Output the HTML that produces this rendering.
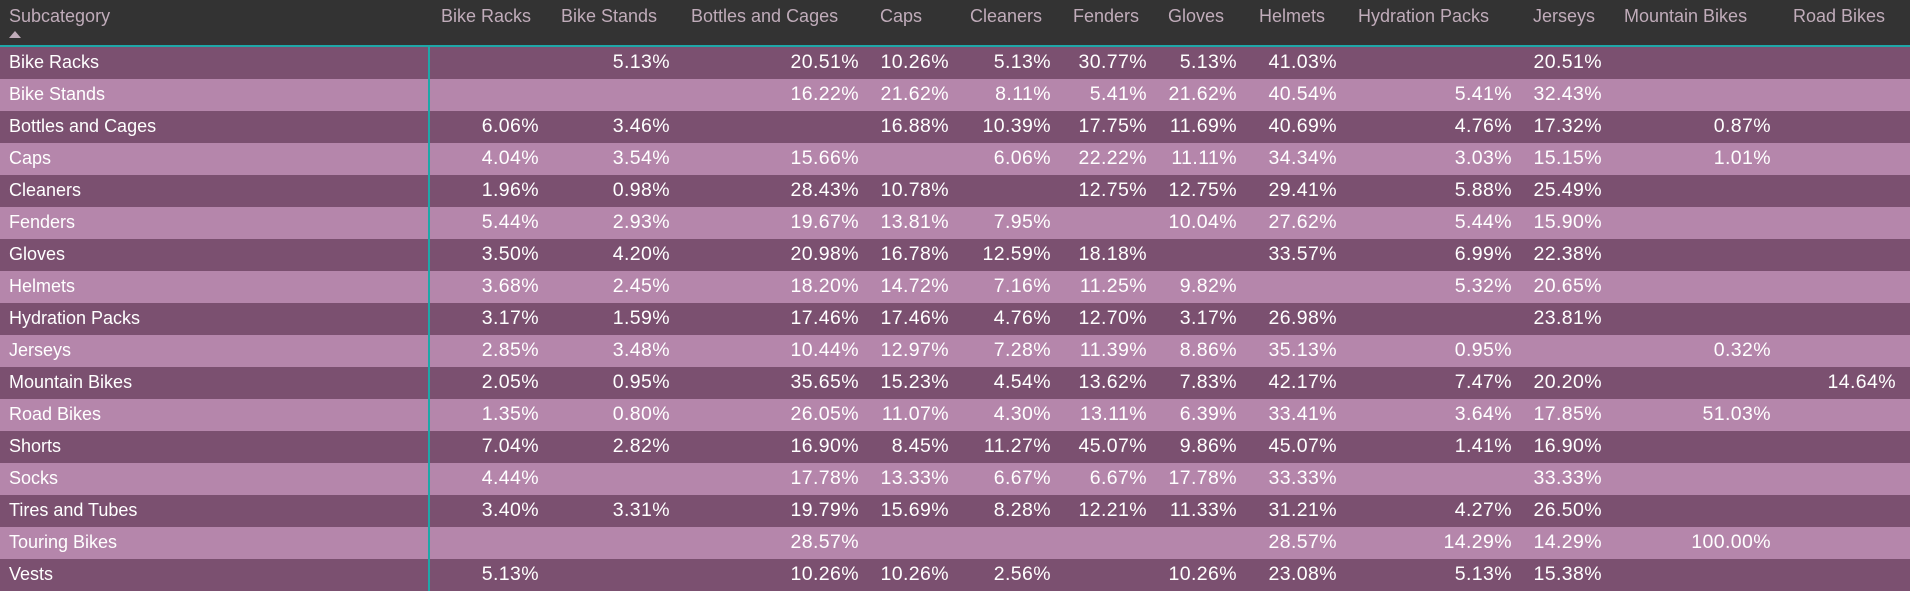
<!DOCTYPE html>
<html><head><meta charset="utf-8"><style>
body{margin:0;width:1910px;height:591px;overflow:hidden;background:#333;font-family:"Segoe UI","Liberation Sans",sans-serif;}
.hd{position:absolute;top:0;left:0;width:1910px;height:45px;background:#333;color:#c0acba;font-size:18px;}
.hd span{position:absolute;top:6px;white-space:nowrap;}
.tri{position:absolute;left:9px;top:31px;width:0;height:0;border-left:6px solid transparent;border-right:6px solid transparent;border-bottom:7px solid #c0acba;}
.hl{position:absolute;top:45px;left:0;width:1910px;height:2px;background:#1fa7a8;}
.vl{position:absolute;top:45px;left:428px;width:2px;height:546px;background:#1fa7a8;z-index:5;}
.rows{position:absolute;top:47px;left:0;width:1910px;}
.r{position:relative;height:32px;color:#fff;font-size:19.5px;line-height:31px;white-space:nowrap;letter-spacing:0.4px;}
.r:nth-child(odd){background:#7b5070;}
.r:nth-child(even){background:#b586ab;}
.r span{position:absolute;top:0;}
.r .n{left:9px;font-size:18px;letter-spacing:0;}
.a{right:1371px}.b{right:1240px}.c{right:1051px}.d{right:961px}.e{right:859px}.f{right:763px}.g{right:673px}.h{right:573px}.i{right:398px}.j{right:308px}.k{right:139px}.l{right:14px}
</style></head><body>
<div class="hd">
<span style="left:9px">Subcategory</span><div class="tri"></div>
<span style="left:441px">Bike Racks</span>
<span style="left:561px">Bike Stands</span>
<span style="left:691px">Bottles and Cages</span>
<span style="left:880px">Caps</span>
<span style="left:970px">Cleaners</span>
<span style="left:1073px">Fenders</span>
<span style="left:1168px">Gloves</span>
<span style="left:1259px">Helmets</span>
<span style="left:1358px">Hydration Packs</span>
<span style="left:1533px">Jerseys</span>
<span style="left:1624px">Mountain Bikes</span>
<span style="left:1793px">Road Bikes</span>
</div>
<div class="hl"></div><div class="vl"></div>
<div class="rows">
<div class="r"><span class="n">Bike Racks</span><span class="b">5.13%</span><span class="c">20.51%</span><span class="d">10.26%</span><span class="e">5.13%</span><span class="f">30.77%</span><span class="g">5.13%</span><span class="h">41.03%</span><span class="j">20.51%</span></div>
<div class="r"><span class="n">Bike Stands</span><span class="c">16.22%</span><span class="d">21.62%</span><span class="e">8.11%</span><span class="f">5.41%</span><span class="g">21.62%</span><span class="h">40.54%</span><span class="i">5.41%</span><span class="j">32.43%</span></div>
<div class="r"><span class="n">Bottles and Cages</span><span class="a">6.06%</span><span class="b">3.46%</span><span class="d">16.88%</span><span class="e">10.39%</span><span class="f">17.75%</span><span class="g">11.69%</span><span class="h">40.69%</span><span class="i">4.76%</span><span class="j">17.32%</span><span class="k">0.87%</span></div>
<div class="r"><span class="n">Caps</span><span class="a">4.04%</span><span class="b">3.54%</span><span class="c">15.66%</span><span class="e">6.06%</span><span class="f">22.22%</span><span class="g">11.11%</span><span class="h">34.34%</span><span class="i">3.03%</span><span class="j">15.15%</span><span class="k">1.01%</span></div>
<div class="r"><span class="n">Cleaners</span><span class="a">1.96%</span><span class="b">0.98%</span><span class="c">28.43%</span><span class="d">10.78%</span><span class="f">12.75%</span><span class="g">12.75%</span><span class="h">29.41%</span><span class="i">5.88%</span><span class="j">25.49%</span></div>
<div class="r"><span class="n">Fenders</span><span class="a">5.44%</span><span class="b">2.93%</span><span class="c">19.67%</span><span class="d">13.81%</span><span class="e">7.95%</span><span class="g">10.04%</span><span class="h">27.62%</span><span class="i">5.44%</span><span class="j">15.90%</span></div>
<div class="r"><span class="n">Gloves</span><span class="a">3.50%</span><span class="b">4.20%</span><span class="c">20.98%</span><span class="d">16.78%</span><span class="e">12.59%</span><span class="f">18.18%</span><span class="h">33.57%</span><span class="i">6.99%</span><span class="j">22.38%</span></div>
<div class="r"><span class="n">Helmets</span><span class="a">3.68%</span><span class="b">2.45%</span><span class="c">18.20%</span><span class="d">14.72%</span><span class="e">7.16%</span><span class="f">11.25%</span><span class="g">9.82%</span><span class="i">5.32%</span><span class="j">20.65%</span></div>
<div class="r"><span class="n">Hydration Packs</span><span class="a">3.17%</span><span class="b">1.59%</span><span class="c">17.46%</span><span class="d">17.46%</span><span class="e">4.76%</span><span class="f">12.70%</span><span class="g">3.17%</span><span class="h">26.98%</span><span class="j">23.81%</span></div>
<div class="r"><span class="n">Jerseys</span><span class="a">2.85%</span><span class="b">3.48%</span><span class="c">10.44%</span><span class="d">12.97%</span><span class="e">7.28%</span><span class="f">11.39%</span><span class="g">8.86%</span><span class="h">35.13%</span><span class="i">0.95%</span><span class="k">0.32%</span></div>
<div class="r"><span class="n">Mountain Bikes</span><span class="a">2.05%</span><span class="b">0.95%</span><span class="c">35.65%</span><span class="d">15.23%</span><span class="e">4.54%</span><span class="f">13.62%</span><span class="g">7.83%</span><span class="h">42.17%</span><span class="i">7.47%</span><span class="j">20.20%</span><span class="l">14.64%</span></div>
<div class="r"><span class="n">Road Bikes</span><span class="a">1.35%</span><span class="b">0.80%</span><span class="c">26.05%</span><span class="d">11.07%</span><span class="e">4.30%</span><span class="f">13.11%</span><span class="g">6.39%</span><span class="h">33.41%</span><span class="i">3.64%</span><span class="j">17.85%</span><span class="k">51.03%</span></div>
<div class="r"><span class="n">Shorts</span><span class="a">7.04%</span><span class="b">2.82%</span><span class="c">16.90%</span><span class="d">8.45%</span><span class="e">11.27%</span><span class="f">45.07%</span><span class="g">9.86%</span><span class="h">45.07%</span><span class="i">1.41%</span><span class="j">16.90%</span></div>
<div class="r"><span class="n">Socks</span><span class="a">4.44%</span><span class="c">17.78%</span><span class="d">13.33%</span><span class="e">6.67%</span><span class="f">6.67%</span><span class="g">17.78%</span><span class="h">33.33%</span><span class="j">33.33%</span></div>
<div class="r"><span class="n">Tires and Tubes</span><span class="a">3.40%</span><span class="b">3.31%</span><span class="c">19.79%</span><span class="d">15.69%</span><span class="e">8.28%</span><span class="f">12.21%</span><span class="g">11.33%</span><span class="h">31.21%</span><span class="i">4.27%</span><span class="j">26.50%</span></div>
<div class="r"><span class="n">Touring Bikes</span><span class="c">28.57%</span><span class="h">28.57%</span><span class="i">14.29%</span><span class="j">14.29%</span><span class="k">100.00%</span></div>
<div class="r"><span class="n">Vests</span><span class="a">5.13%</span><span class="c">10.26%</span><span class="d">10.26%</span><span class="e">2.56%</span><span class="g">10.26%</span><span class="h">23.08%</span><span class="i">5.13%</span><span class="j">15.38%</span></div>
</div>
</body></html>
